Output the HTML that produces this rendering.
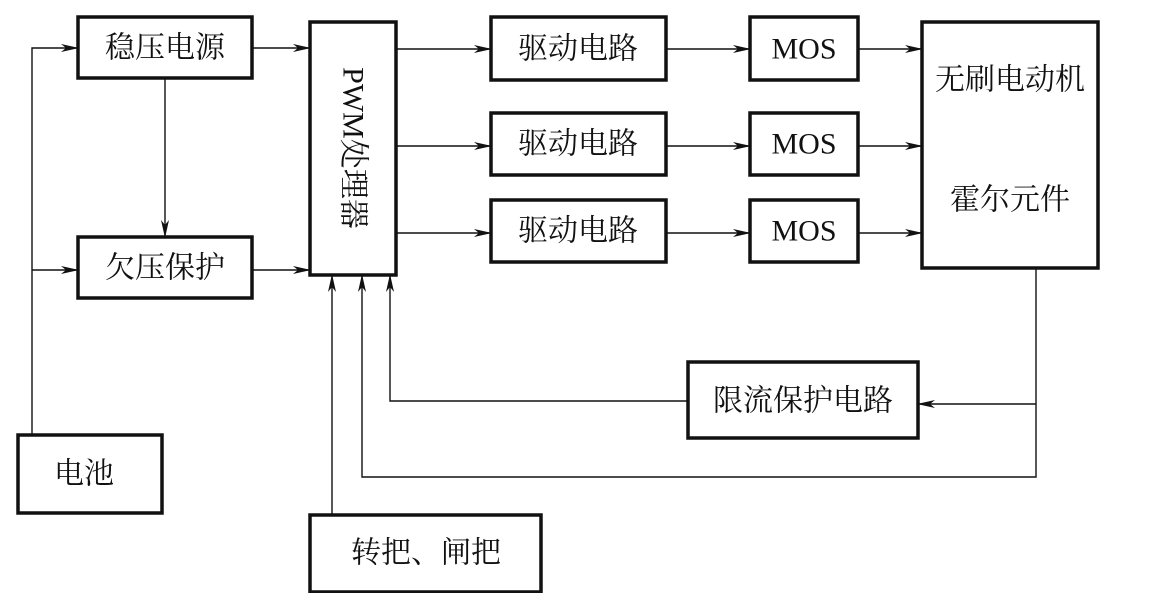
<!DOCTYPE html>
<html><head><meta charset="utf-8"><style>
html,body{margin:0;padding:0;background:#fff;}
svg{display:block;}
text{font-family:"Liberation Serif","Noto Serif CJK SC","Noto Sans CJK SC",serif;font-size:30px;fill:#111;dominant-baseline:central;text-anchor:middle;}
.b{fill:none;stroke:#111;stroke-width:3.5;}
.l{fill:none;stroke:#111;stroke-width:1.4;}
</style></head><body>
<svg width="1157" height="593" viewBox="0 0 1157 593">
<defs><marker id="a" markerWidth="18" markerHeight="10" refX="17" refY="5" orient="auto" markerUnits="userSpaceOnUse"><path d="M0,1 L18,5 L0,9 L5,5 Z" fill="#111"/></marker></defs>
<rect class="b" x="78" y="17" width="174" height="61"/>
<rect class="b" x="78" y="237" width="174" height="61"/>
<rect class="b" x="310" y="22" width="86" height="253"/>
<rect class="b" x="491" y="17" width="175" height="63"/>
<rect class="b" x="491" y="113" width="175" height="62"/>
<rect class="b" x="491" y="200" width="175" height="62"/>
<rect class="b" x="750" y="17" width="108" height="63"/>
<rect class="b" x="750" y="113" width="108" height="62"/>
<rect class="b" x="750" y="200" width="108" height="62"/>
<rect class="b" x="922" y="22" width="176" height="246"/>
<rect class="b" x="688" y="362" width="230" height="76"/>
<rect class="b" x="18" y="435" width="144" height="78"/>
<rect class="b" x="310" y="515" width="231" height="77"/>
<text x="165" y="48">稳压电源</text>
<text x="165" y="268">欠压保护</text>
<text x="578" y="49">驱动电路</text>
<text x="578" y="144">驱动电路</text>
<text x="578" y="231">驱动电路</text>
<text x="804" y="49">MOS</text>
<text x="804" y="144">MOS</text>
<text x="804" y="231">MOS</text>
<text x="1010" y="80">无刷电动机</text>
<text x="1010" y="200">霍尔元件</text>
<text x="803" y="401">限流保护电路</text>
<text x="84" y="474">电池</text>
<text x="426" y="553">转把、闸把</text>
<text transform="translate(353,148) rotate(90)">PWM处理器</text>
<path class="l" d="M32,435 V48 H78" marker-end="url(#a)"/>
<path class="l" d="M32,270 H78" marker-end="url(#a)"/>
<path class="l" d="M165,78 V237" marker-end="url(#a)"/>
<path class="l" d="M252,48 H310" marker-end="url(#a)"/>
<path class="l" d="M252,270 H310" marker-end="url(#a)"/>
<path class="l" d="M396,49 H491" marker-end="url(#a)"/>
<path class="l" d="M396,146 H491" marker-end="url(#a)"/>
<path class="l" d="M396,233 H491" marker-end="url(#a)"/>
<path class="l" d="M666,49 H750" marker-end="url(#a)"/>
<path class="l" d="M666,146 H750" marker-end="url(#a)"/>
<path class="l" d="M666,233 H750" marker-end="url(#a)"/>
<path class="l" d="M858,49 H922" marker-end="url(#a)"/>
<path class="l" d="M858,146 H922" marker-end="url(#a)"/>
<path class="l" d="M858,233 H922" marker-end="url(#a)"/>
<path class="l" d="M1036,268 V477 H362 V275" marker-end="url(#a)"/>
<path class="l" d="M1036,404 H918" marker-end="url(#a)"/>
<path class="l" d="M688,401 H390 V275" marker-end="url(#a)"/>
<path class="l" d="M332,515 V275" marker-end="url(#a)"/>
</svg>
</body></html>
